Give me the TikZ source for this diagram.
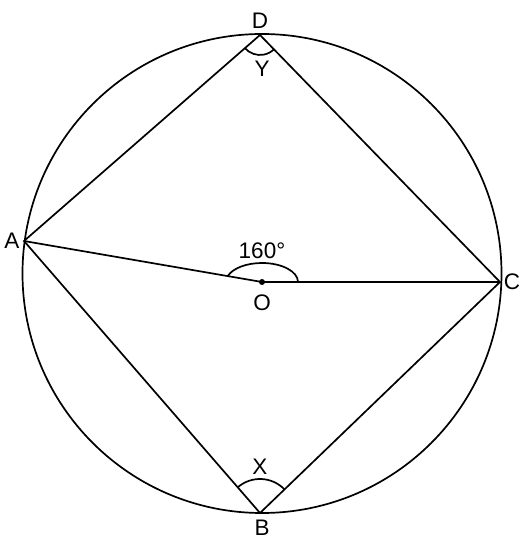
\documentclass[tikz,border=0pt]{standalone}
\usepackage{fontspec}
\setmainfont{Liberation Sans}
\usepackage{tikz}

\begin{document}
\begin{tikzpicture}[x=1pt, y=1pt, line width=1.7pt,
	lbl/.style={font=\fontsize{22.5}{26}\selectfont, inner sep=0pt}]
	\useasboundingbox (0,0) rectangle (530,543);
	% punti
	\coordinate (Z) at (262,269.5);
	\coordinate (D) at (260,508);
	\coordinate (B) at (260,30);
	\coordinate (A) at (24,302);
	\coordinate (C) at (500,261);
	\coordinate (O) at (262,261);
	
	% cerchio
	\draw (Z) circle[radius=239.5];
	
	% lati
	\draw (A) -- (D) -- (C) -- (B) -- cycle;
	\draw (A) -- (O) -- (C);
	\fill (O) circle[radius=3];
	
	% angoli
	\draw ([shift={(221.1:20)}]D) arc[start angle=221.1, end angle=314.2, radius=20];
	\draw ([shift={(43.9:34)}]B) arc[start angle=43.9, end angle=130.9, radius=34];
	\draw ([shift={(36,0)}]O) arc[start angle=0, end angle=161, x radius=36, y radius=19];
	
	% etichette
	\node[lbl] (lD) at (260,522) {D};
	\node[lbl] (lY) at (262,474) {Y};
	\node[lbl] (lX) at (260,76) {X};
	\node[lbl] (lB) at (262,15) {B};
	\node[lbl] (lA) at (12,302) {A};
	\node[lbl] (lC) at (512,261) {C};
	\node[lbl] (lO) at (262,240) {O};
	\node[lbl] (lang) at (262,292) {160°};
\end{tikzpicture}
\end{document}
